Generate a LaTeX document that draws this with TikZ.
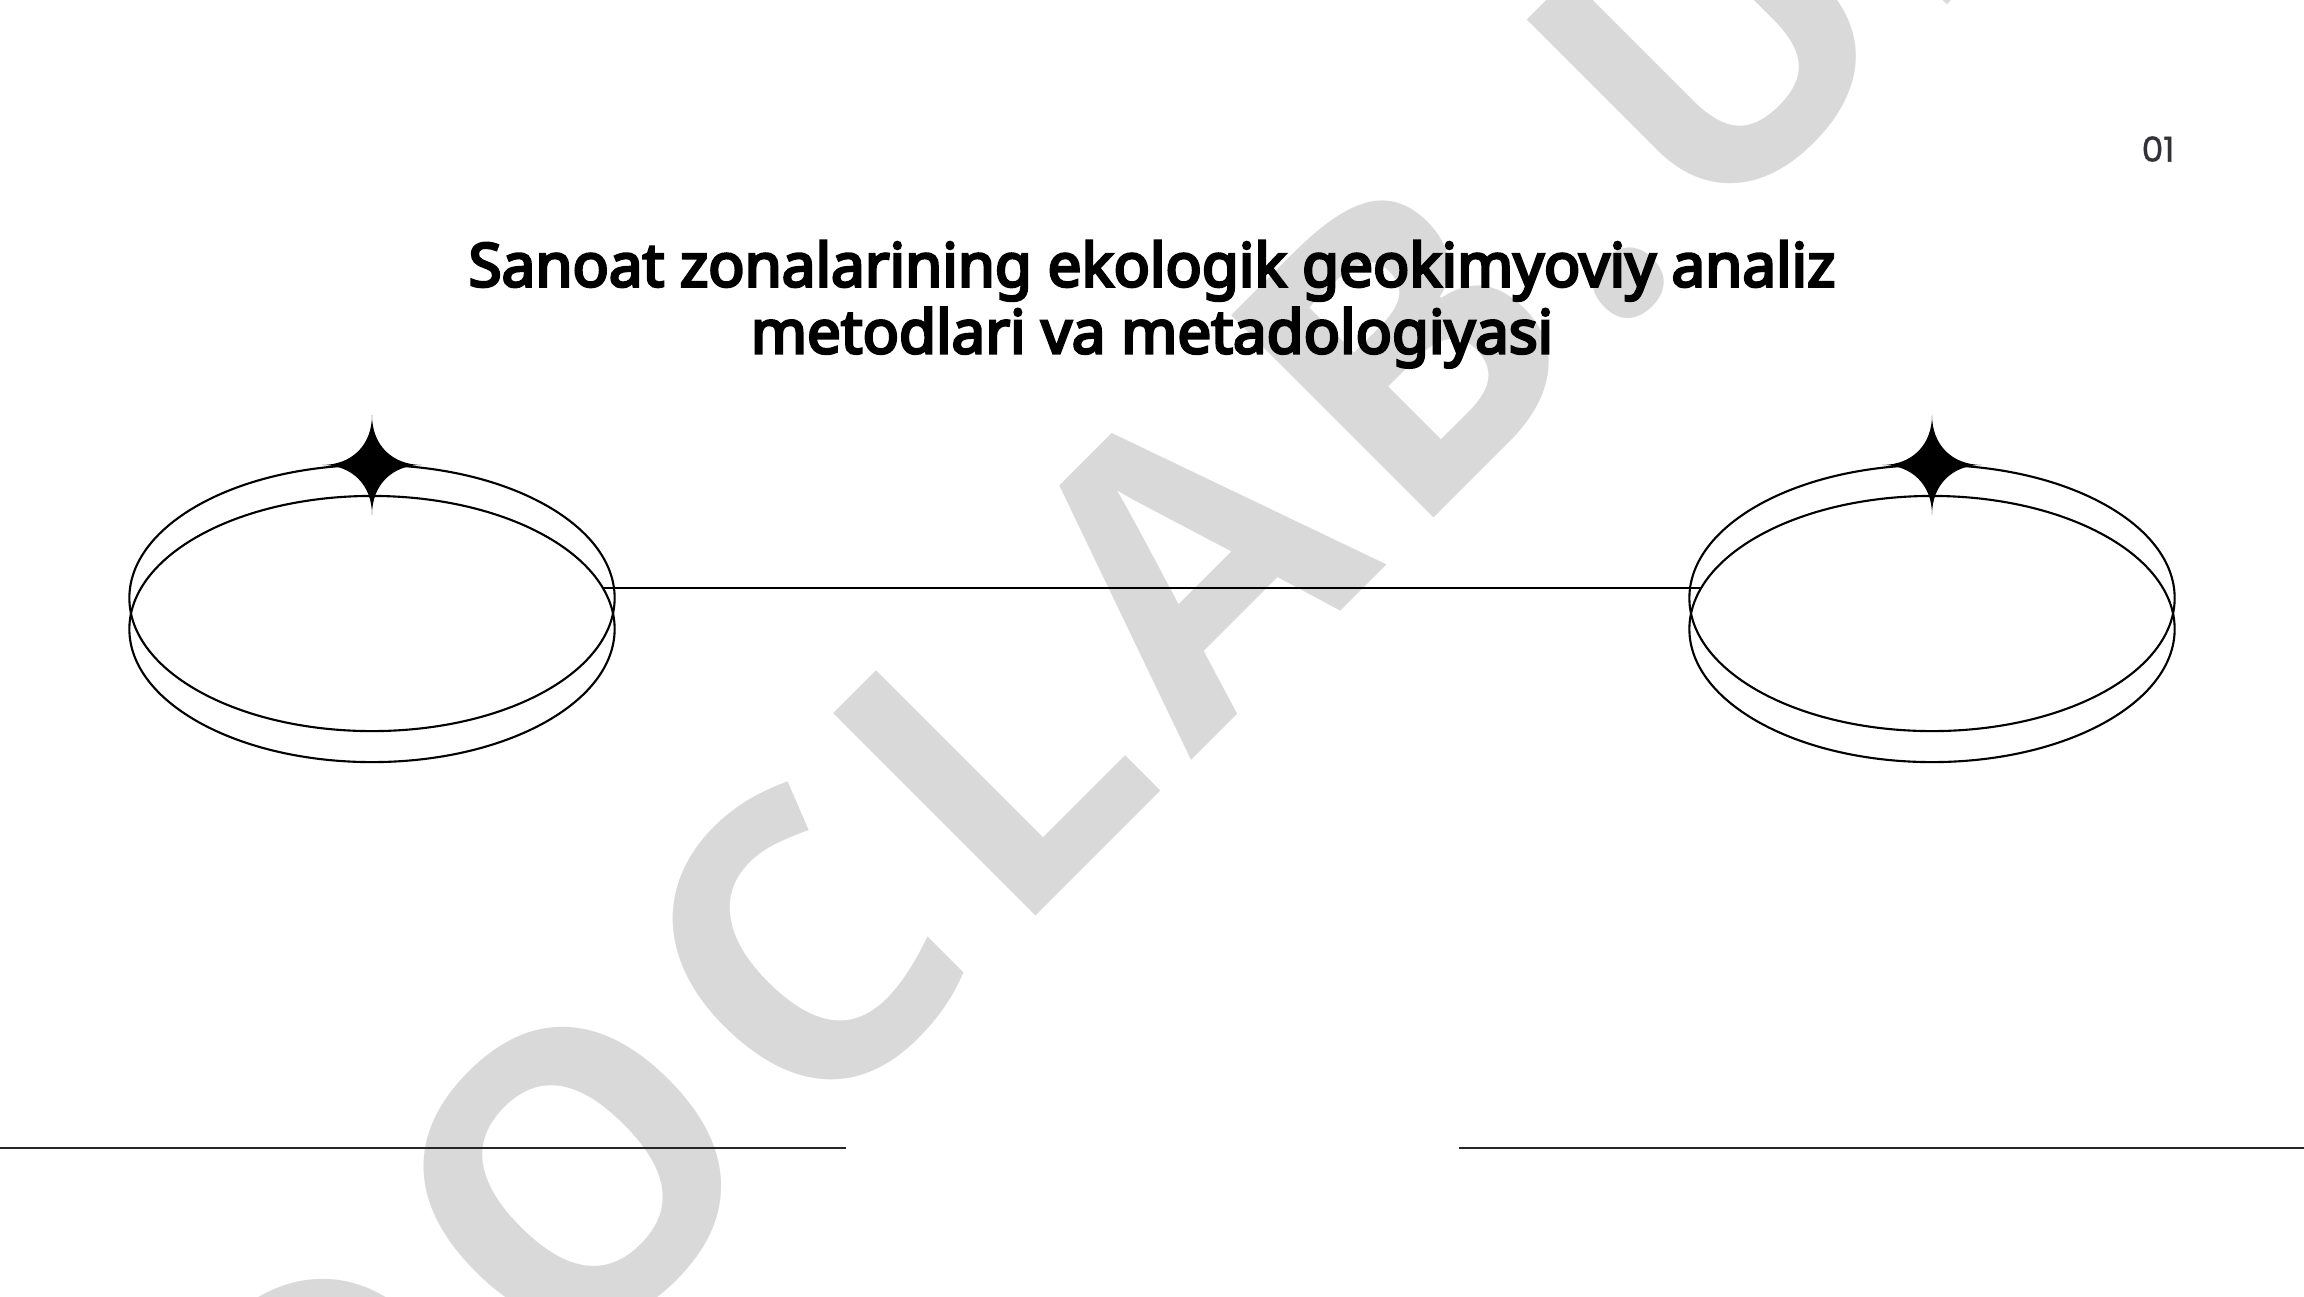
\documentclass[tikz,border=0pt]{standalone}
\usepackage{fontspec}
\setmainfont{Noto Sans}[AutoFakeBold=4.5]
\newfontfamily\wmfont{Open Sans}[LetterSpace=7.5]
\newfontfamily\numfont{Poppins}[AutoFakeBold=1]
\usepackage{tikz}
\usetikzlibrary{shapes.geometric}
\definecolor{wmgray}{RGB}{217,217,217}
\definecolor{numgray}{RGB}{50,50,55}
\tikzset{
	slide/.style={x=0.01cm, y=-0.01cm},
	ring/.style={ellipse, draw, line width=0.6pt,
		minimum width=4.85cm, minimum height=2.66cm,
		inner sep=0pt, outer sep=0pt},
	wire/.style={draw, line width=0.6pt},
	rule/.style={draw, line width=0.8pt, black!85},
	wmark/.style={font=\wmfont\bfseries\fontsize{114}{114}\selectfont,
		text=wmgray, rotate=45, anchor=base, inner sep=0pt},
	title/.style={font=\bfseries\fontsize{17.1}{19}\selectfont,
		align=center, anchor=north, inner sep=0pt},
	pagenum/.style={font=\numfont\bfseries\fontsize{9.8}{10}\selectfont,
		text=numgray, inner sep=0pt},
	sparkle/.pic={
		\fill (0,50) .. controls (0,20) and (20,0) .. (50,0)
			.. controls (20,0) and (0,-20) .. (0,-50)
			.. controls (0,-20) and (-20,0) .. (-50,0)
			.. controls (-20,0) and (0,20) .. cycle;
	}
}

\begin{document}
\begin{tikzpicture}[slide]
            \useasboundingbox[fill=white] (0,0) rectangle (2304,1296);
            \clip (0,0) rectangle (2304,1296);
            \node[wmark] (wm) at (1218,734) {DOCLAB.UZ};
            \node[ring] (leftTop) at (372,598) {};
            \node[ring] (leftBot) at (372,629) {};
            \node[ring] (rightTop) at (1932,598) {};
            \node[ring] (rightBot) at (1932,629) {};
            \path (leftTop.north) pic {sparkle};
            \path (rightTop.north) pic {sparkle};
            \draw[wire] (leftBot.10) -- (rightBot.170);
            \node[title] (ttl) at (1152,240)
                {Sanoat zonalarining ekologik geokimyoviy analiz\\metodlari va metadologiyasi};
            \node[pagenum] (pnum) at (2158,149) {01};
            \coordinate (ruleL0) at (0,1148);
            \coordinate (ruleL1) at (846,1148);
            \coordinate (ruleR0) at (1459,1148);
            \coordinate (ruleR1) at (2304,1148);
            \draw[rule] (ruleL0) -- (ruleL1);
            \draw[rule] (ruleR0) -- (ruleR1);
\end{tikzpicture}
\end{document}
